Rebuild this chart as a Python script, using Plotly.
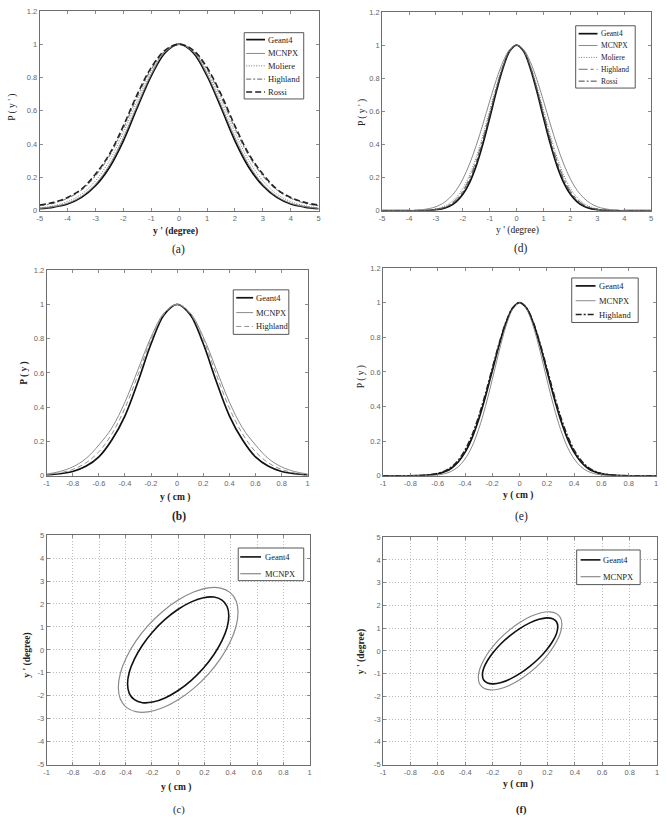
import plotly.graph_objects as go

W, H = 667, 826

# ---------------- data ----------------
# (a) angular distributions, y' in degree
xa = [-5, -4.5, -4, -3.5, -3, -2.5, -2, -1.5, -1, -0.5, 0, 0.5, 1, 1.5, 2, 2.5, 3, 3.5, 4, 4.5, 5]
geant4_a = [0.012, 0.022, 0.04, 0.08, 0.15, 0.26, 0.42, 0.62, 0.81, 0.95, 1, 0.95, 0.81, 0.62, 0.42, 0.26, 0.15, 0.08, 0.04, 0.022, 0.012]
mcnpx_a = [0.014, 0.025, 0.045, 0.087, 0.16, 0.275, 0.44, 0.635, 0.82, 0.955, 1, 0.955, 0.82, 0.635, 0.44, 0.275, 0.16, 0.087, 0.045, 0.025, 0.014]
moliere_a = [0.018, 0.03, 0.055, 0.10, 0.18, 0.30, 0.47, 0.66, 0.835, 0.96, 1, 0.96, 0.835, 0.66, 0.47, 0.30, 0.18, 0.10, 0.055, 0.03, 0.018]
highland_a = [0.03, 0.045, 0.075, 0.125, 0.21, 0.33, 0.495, 0.685, 0.85, 0.96, 1, 0.96, 0.85, 0.685, 0.495, 0.33, 0.21, 0.125, 0.075, 0.045, 0.03]
rossi_a = [0.034, 0.05, 0.08, 0.13, 0.22, 0.34, 0.51, 0.70, 0.86, 0.965, 1, 0.965, 0.86, 0.70, 0.51, 0.34, 0.22, 0.13, 0.08, 0.05, 0.034]

# (d) angular distributions, y' in degree
xd = [-5, -4.75, -4.5, -4.25, -4, -3.75, -3.5, -3.25, -3, -2.75, -2.5, -2.25, -2, -1.75, -1.5, -1.25, -1, -0.75, -0.5, -0.25, 0,
      0.25, 0.5, 0.75, 1, 1.25, 1.5, 1.75, 2, 2.25, 2.5, 2.75, 3, 3.25, 3.5, 3.75, 4, 4.25, 4.5, 4.75, 5]
geant4_d = [0, 0, 0, 0, 0, 0, 0.001, 0.002, 0.006, 0.013, 0.027, 0.054, 0.099, 0.17, 0.272, 0.405, 0.561, 0.722, 0.865, 0.965, 1,
            0.965, 0.865, 0.722, 0.561, 0.405, 0.272, 0.17, 0.099, 0.054, 0.027, 0.013, 0.006, 0.002, 0.001, 0, 0, 0, 0, 0, 0]
mcnpx_d = [0, 0, 0, 0, 0.001, 0.003, 0.006, 0.013, 0.024, 0.044, 0.076, 0.123, 0.191, 0.282, 0.395, 0.524, 0.662, 0.793, 0.902, 0.975, 1,
           0.975, 0.902, 0.793, 0.662, 0.524, 0.395, 0.282, 0.191, 0.123, 0.076, 0.044, 0.024, 0.013, 0.006, 0.003, 0.001, 0, 0, 0, 0]
moliere_d = [0, 0, 0, 0, 0, 0.001, 0.002, 0.005, 0.011, 0.023, 0.044, 0.08, 0.135, 0.216, 0.325, 0.458, 0.607, 0.755, 0.882, 0.969, 1,
             0.969, 0.882, 0.755, 0.607, 0.458, 0.325, 0.216, 0.135, 0.08, 0.044, 0.023, 0.011, 0.005, 0.002, 0.001, 0, 0, 0, 0, 0]
highland_d = [0, 0, 0, 0, 0, 0, 0.001, 0.004, 0.008, 0.018, 0.036, 0.068, 0.119, 0.197, 0.302, 0.436, 0.588, 0.742, 0.876, 0.967, 1,
              0.967, 0.876, 0.742, 0.588, 0.436, 0.302, 0.197, 0.119, 0.068, 0.036, 0.018, 0.008, 0.004, 0.001, 0, 0, 0, 0, 0, 0]
rossi_d = [0, 0, 0, 0, 0, 0, 0.001, 0.003, 0.007, 0.015, 0.031, 0.061, 0.109, 0.183, 0.287, 0.421, 0.575, 0.732, 0.871, 0.966, 1,
           0.966, 0.871, 0.732, 0.575, 0.421, 0.287, 0.183, 0.109, 0.061, 0.031, 0.015, 0.007, 0.003, 0.001, 0, 0, 0, 0, 0, 0]

# (b) lateral distributions, y in cm
xb = [-1, -0.9, -0.8, -0.7, -0.6, -0.5, -0.4, -0.3, -0.2, -0.1, 0, 0.1, 0.2, 0.3, 0.4, 0.5, 0.6, 0.7, 0.8, 0.9, 1]
geant4_b = [0.005, 0.012, 0.025, 0.055, 0.11, 0.21, 0.35, 0.55, 0.77, 0.94, 1, 0.94, 0.77, 0.55, 0.35, 0.21, 0.11, 0.055, 0.025, 0.012, 0.005]
mcnpx_b = [0.01, 0.025, 0.052, 0.10, 0.18, 0.28, 0.43, 0.62, 0.81, 0.95, 1, 0.95, 0.81, 0.62, 0.43, 0.28, 0.18, 0.10, 0.052, 0.025, 0.01]
highland_b = [0.008, 0.017, 0.037, 0.075, 0.14, 0.245, 0.395, 0.59, 0.795, 0.945, 1, 0.945, 0.795, 0.59, 0.395, 0.245, 0.14, 0.075, 0.037, 0.017, 0.008]

# (e) lateral distributions, y in cm
xe = [-1, -0.95, -0.9, -0.85, -0.8, -0.75, -0.7, -0.65, -0.6, -0.55, -0.5, -0.45, -0.4, -0.35, -0.3, -0.25, -0.2, -0.15, -0.1, -0.05, 0,
      0.05, 0.1, 0.15, 0.2, 0.25, 0.3, 0.35, 0.4, 0.45, 0.5, 0.55, 0.6, 0.65, 0.7, 0.75, 0.8, 0.85, 0.9, 0.95, 1]
geant4_e = [0, 0, 0, 0, 0, 0.001, 0.002, 0.005, 0.011, 0.023, 0.044, 0.08, 0.135, 0.216, 0.325, 0.458, 0.607, 0.755, 0.882, 0.969, 1,
            0.969, 0.882, 0.755, 0.607, 0.458, 0.325, 0.216, 0.135, 0.08, 0.044, 0.023, 0.011, 0.005, 0.002, 0.001, 0, 0, 0, 0, 0]
mcnpx_e = [0, 0, 0, 0, 0, 0, 0.001, 0.002, 0.005, 0.012, 0.026, 0.052, 0.097, 0.167, 0.269, 0.401, 0.557, 0.72, 0.864, 0.964, 1,
           0.964, 0.864, 0.72, 0.557, 0.401, 0.269, 0.167, 0.097, 0.052, 0.026, 0.012, 0.005, 0.002, 0.001, 0, 0, 0, 0, 0, 0]
highland_e = [0, 0, 0, 0, 0, 0.001, 0.003, 0.007, 0.014, 0.027, 0.051, 0.09, 0.149, 0.233, 0.343, 0.476, 0.622, 0.765, 0.888, 0.971, 1,
              0.971, 0.888, 0.765, 0.622, 0.476, 0.343, 0.233, 0.149, 0.09, 0.051, 0.027, 0.014, 0.007, 0.003, 0.001, 0, 0, 0, 0, 0]

# (c) phase-space ellipses: y (cm) and y' (degree)
geant4_c_y = [0.385, 0.372, 0.333, 0.272, 0.193, 0.100, 0, -0.100, -0.193, -0.272, -0.333, -0.372,
              -0.385, -0.372, -0.333, -0.272, -0.193, -0.100, 0, 0.100, 0.193, 0.272, 0.333, 0.372, 0.385]
geant4_c_yp = [1.485, 1.892, 2.171, 2.301, 2.275, 2.093, 1.769, 1.326, 0.790, 0.201, -0.402, -0.977,
               -1.485, -1.892, -2.171, -2.301, -2.275, -2.093, -1.769, -1.326, -0.790, -0.201, 0.402, 0.977, 1.485]
mcnpx_c_y = [0.455, 0.440, 0.394, 0.322, 0.228, 0.118, 0, -0.118, -0.228, -0.322, -0.394, -0.440,
             -0.455, -0.440, -0.394, -0.322, -0.228, -0.118, 0, 0.118, 0.228, 0.322, 0.394, 0.440, 0.455]
mcnpx_c_yp = [1.637, 2.143, 2.505, 2.693, 2.701, 2.521, 2.173, 1.676, 1.064, 0.378, -0.332, -1.020,
              -1.637, -2.143, -2.505, -2.693, -2.701, -2.521, -2.173, -1.676, -1.064, -0.378, 0.332, 1.020, 1.637]

# (f) phase-space ellipses
geant4_f_y = [0.275, 0.266, 0.238, 0.194, 0.138, 0.071, 0, -0.071, -0.138, -0.194, -0.238, -0.266,
              -0.275, -0.266, -0.238, -0.194, -0.138, -0.071, 0, 0.071, 0.138, 0.194, 0.238, 0.266, 0.275]
geant4_f_yp = [1.060, 1.280, 1.412, 1.449, 1.386, 1.230, 0.989, 0.680, 0.326, -0.051, -0.423, -0.769,
               -1.060, -1.280, -1.412, -1.449, -1.386, -1.230, -0.989, -0.680, -0.326, 0.051, 0.423, 0.769, 1.060]
mcnpx_f_y = [0.305, 0.295, 0.264, 0.216, 0.153, 0.079, 0, -0.079, -0.153, -0.216, -0.264, -0.295,
             -0.305, -0.295, -0.264, -0.216, -0.153, -0.079, 0, 0.079, 0.153, 0.216, 0.264, 0.295, 0.305]
mcnpx_f_yp = [1.173, 1.459, 1.644, 1.718, 1.675, 1.519, 1.257, 0.912, 0.502, 0.060, -0.387, -0.807,
              -1.173, -1.459, -1.644, -1.718, -1.675, -1.519, -1.257, -0.912, -0.502, -0.060, 0.387, 0.807, 1.173]

# tick labels
deg_ticks = [-5, -4, -3, -2, -1, 0, 1, 2, 3, 4, 5]
deg_labels = ['-5', '-4', '-3', '-2', '-1', '0', '1', '2', '3', '4', '5']
cm_ticks = [-1, -0.8, -0.6, -0.4, -0.2, 0, 0.2, 0.4, 0.6, 0.8, 1]
cm_labels = ['-1', '-0.8', '-0.6', '-0.4', '-0.2', '0', '0.2', '0.4', '0.6', '0.8', '1']
p_ticks = [0, 0.2, 0.4, 0.6, 0.8, 1, 1.2]
p_labels = ['0', '0.2', '0.4', '0.6', '0.8', '1', '1.2']

# ---------------- styles ----------------
ST = {
    'Geant4': dict(color='#111111', width=1.7),
    'MCNPX': dict(color='#8a8a8a', width=1.0),
    'Moliere': dict(color='#777777', width=1.0, dash='1px,1.5px'),
    'Highland_a': dict(color='#808080', width=1.1, dash='5px,2px,2px,2px'),
    'Rossi_a': dict(color='#222222', width=1.6, dash='6px,3px'),
    'Highland_d': dict(color='#707070', width=1.0, dash='dashdot'),
    'Rossi_d': dict(color='#444444', width=1.0, dash='6px,2px,2px,2px'),
    'Highland_b': dict(color='#909090', width=1.0, dash='5px,3px'),
    'Highland_e': dict(color='#222222', width=1.5, dash='6px,2px,2px,2px'),
    'Geant4_ell': dict(color='#111111', width=1.6),
    'MCNPX_ell': dict(color='#8a8a8a', width=1.2),
}

fig = go.Figure()

def px(x):
    return x / W

def py(y):
    return 1 - y / H

def ax_names(n):
    return ('x' if n == 1 else f'x{n}'), ('y' if n == 1 else f'y{n}')

def add(n, x, y, name, style, smooth=1.0):
    xa_, ya_ = ax_names(n)
    line = dict(style)
    line['shape'] = 'spline'
    line['smoothing'] = smooth
    fig.add_trace(go.Scatter(x=x, y=y, mode='lines', name=name, line=line,
                             xaxis=xa_, yaxis=ya_, showlegend=False, hoverinfo='skip'))

# panel (a)
add(1, xa, geant4_a, 'Geant4', ST['Geant4'])
add(1, xa, mcnpx_a, 'MCNPX', ST['MCNPX'])
add(1, xa, moliere_a, 'Moliere', ST['Moliere'])
add(1, xa, highland_a, 'Highland', ST['Highland_a'])
add(1, xa, rossi_a, 'Rossi', ST['Rossi_a'])
# panel (d)
add(2, xd, geant4_d, 'Geant4', ST['Geant4'])
add(2, xd, mcnpx_d, 'MCNPX', ST['MCNPX'])
add(2, xd, moliere_d, 'Moliere', ST['Moliere'])
add(2, xd, highland_d, 'Highland', ST['Highland_d'])
add(2, xd, rossi_d, 'Rossi', ST['Rossi_d'])
# panel (b)
add(3, xb, geant4_b, 'Geant4', ST['Geant4'])
add(3, xb, mcnpx_b, 'MCNPX', ST['MCNPX'])
add(3, xb, highland_b, 'Highland', ST['Highland_b'])
# panel (e)
add(4, xe, geant4_e, 'Geant4', ST['Geant4'])
add(4, xe, mcnpx_e, 'MCNPX', ST['MCNPX'])
add(4, xe, highland_e, 'Highland', ST['Highland_e'])
# panel (c)
add(5, geant4_c_y, geant4_c_yp, 'Geant4', ST['Geant4_ell'])
add(5, mcnpx_c_y, mcnpx_c_yp, 'MCNPX', ST['MCNPX_ell'])
# panel (f)
add(6, geant4_f_y, geant4_f_yp, 'Geant4', ST['Geant4_ell'])
add(6, mcnpx_f_y, mcnpx_f_yp, 'MCNPX', ST['MCNPX_ell'])

# ---------------- axes ----------------
panels = [
    # n, x px range, y px range, xrange, yrange, xticks, yticks, grid
    (1, (37, 318), (7, 209), [-5, 5], [0, 1.2], (deg_ticks, deg_labels), (p_ticks, p_labels), False),
    (2, (382, 653), (8, 209), [-5, 5], [0, 1.2], (deg_ticks, deg_labels), (p_ticks, p_labels), False),
    (3, (44, 307), (269, 477), [-1, 1], [0, 1.2], (cm_ticks, cm_labels), (p_ticks, p_labels), False),
    (4, (383, 658), (267, 477), [-1, 1], [0, 1.2], (cm_ticks, cm_labels), (p_ticks, p_labels), False),
    (5, (44, 309), (537, 769), [-1, 1], [-5, 5], (cm_ticks, cm_labels), (deg_ticks, deg_labels), True),
    (6, (383, 659), (539, 769), [-1, 1], [-5, 5], (cm_ticks, cm_labels), (deg_ticks, deg_labels), True),
]

tickfont = dict(family='Liberation Sans', size=7.5, color='#666666')
layout_axes = {}
for n, xp, ypx, xr, yr, xt, yt, grid in panels:
    xk = 'xaxis' if n == 1 else f'xaxis{n}'
    yk = 'yaxis' if n == 1 else f'yaxis{n}'
    xa_, ya_ = ax_names(n)
    common = dict(showline=True, mirror='ticks', linecolor='#6e6e6e', linewidth=1,
                  ticks='inside', ticklen=3, tickwidth=0.8, tickcolor='#6e6e6e',
                  zeroline=False, tickfont=tickfont, fixedrange=True,
                  showgrid=grid, gridcolor='#bdbdbd', griddash='1px,2px', gridwidth=1)
    layout_axes[xk] = dict(common, domain=[px(xp[0]), px(xp[1])], range=xr, anchor=ya_,
                           tickmode='array', tickvals=xt[0], ticktext=xt[1])
    layout_axes[yk] = dict(common, domain=[py(ypx[1]), py(ypx[0])], range=yr, anchor=xa_,
                           tickmode='array', tickvals=yt[0], ticktext=yt[1])

fig.update_layout(**layout_axes)

# ---------------- titles ----------------
annotations = []
shapes = []

def text(x, y, s, size=9, bold=False, angle=0, anchor='center', color='#222222'):
    annotations.append(dict(x=px(x), y=py(y), xref='paper', yref='paper', text=(f'<b>{s}</b>' if bold else s),
                            showarrow=False, textangle=angle, xanchor=anchor, yanchor='middle',
                            font=dict(family='Liberation Serif', size=size, color=color)))

# x-axis titles
text(174, 230, "y ' (degree)", 9.5, True)
text(518, 229, "y ' (degree)", 9.5, False)
text(173, 499, 'y ( cm )', 9.5, True)
text(519, 497, 'y ( cm )', 9.5, True)
text(174, 792, 'y ( cm )', 9.5, True)
text(519, 789, 'y ( cm )', 9.5, True)
# y-axis titles
text(10, 104, "P ( y ' )", 9.5, False, -90)
text(363, 110, "P ( y ' )", 9.5, False, -90)
text(22, 373, 'P ( y )', 9.5, True, -90)
text(362, 377, 'P ( y )', 9.5, False, -90)
text(25, 658, "y ' (degree)", 9.5, True, -90)
text(362, 655, "y ' (degree)", 9.5, True, -90)
# panel labels
text(177, 248, '(a)', 11.5)
text(522, 247, '(d)', 11.5)
text(177, 518, '(b)', 11.5, True)
text(522, 518, '(e)', 11.5)
text(177, 815, '(c)', 10.5)
text(522, 815, '(f)', 10.5, True)

# ---------------- legends ----------------
def legend(box, entries, line_x, text_x, size=8):
    x0, y0, x1, y1 = box
    shapes.append(dict(type='rect', xref='paper', yref='paper', x0=px(x0), x1=px(x1), y0=py(y1), y1=py(y0),
                       line=dict(color='#444444', width=0.9), fillcolor='white', layer='above'))
    for name, style, yy in entries:
        ln = dict(color=style['color'], width=style['width'])
        if 'dash' in style:
            ln['dash'] = style['dash']
        shapes.append(dict(type='line', xref='paper', yref='paper', x0=px(line_x[0]), x1=px(line_x[1]),
                           y0=py(yy), y1=py(yy), line=ln, layer='above'))
        text(text_x, yy, name, size, False, 0, 'left', '#222222')

legend((243, 29, 303, 96), [('Geant4', ST['Geant4'], 36), ('MCNPX', ST['MCNPX'], 50),
                            ('Moliere', ST['Moliere'], 62.5), ('Highland', ST['Highland_a'], 76),
                            ('Rossi', ST['Rossi_a'], 89)], (245, 264), 265, 8.5)
legend((577, 22, 637, 85), [('Geant4', ST['Geant4'], 30), ('MCNPX', ST['MCNPX'], 42),
                            ('Moliere', ST['Moliere'], 54), ('Highland', ST['Highland_d'], 66),
                            ('Rossi', ST['Rossi_d'], 78)], (580, 599), 600, 7.5)
legend((232, 289, 288, 334), [('Geant4', ST['Geant4'], 297), ('MCNPX', ST['MCNPX'], 312),
                              ('Highland', ST['Highland_b'], 326)], (235, 252), 253, 8.5)
legend((573, 277, 640, 322), [('Geant4', ST['Geant4'], 285), ('MCNPX', ST['MCNPX'], 300),
                              ('Highland', ST['Highland_e'], 314)], (577, 597), 598, 8.5)
legend((237, 550, 303, 583), [('Geant4', ST['Geant4_ell'], 559), ('MCNPX', ST['MCNPX_ell'], 576)],
       (239, 260), 262, 8.5)
legend((578, 552, 642, 587), [('Geant4', ST['Geant4_ell'], 562), ('MCNPX', ST['MCNPX_ell'], 579)],
       (582, 602), 603, 8.5)

fig.update_layout(width=W, height=H, margin=dict(l=0, r=0, t=0, b=0),
                  paper_bgcolor='white', plot_bgcolor='white', showlegend=False,
                  annotations=annotations, shapes=shapes)

fig.write_html('out.html', config={'displayModeBar': False, 'staticPlot': True},
               post_script="document.body.style.margin='0';document.body.style.overflow='hidden';"
                           "document.documentElement.style.overflow='hidden';")
